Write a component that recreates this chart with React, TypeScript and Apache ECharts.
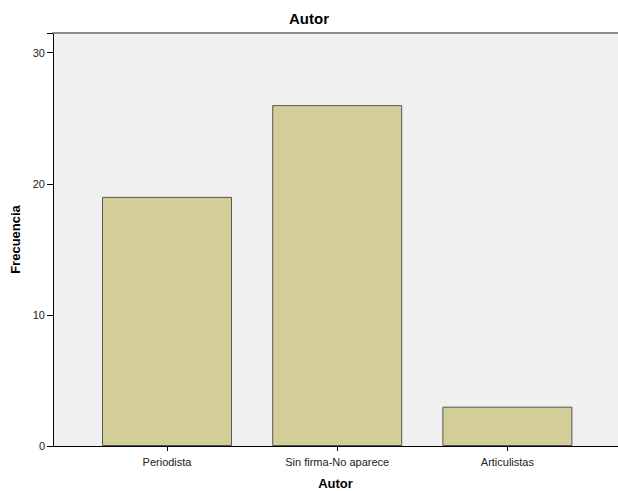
import React, { useEffect, useRef } from "react";
import * as echarts from "echarts";

const categories = ["Periodista", "Sin firma-No aparece", "Articulistas"];
const frequencies = [19, 26, 3];
const yTicks = [0, 10, 20, 30];

export default function App() {
  const ref = useRef<HTMLDivElement>(null);
  useEffect(() => {
    if (!ref.current) return;
    const chart = echarts.init(ref.current, null, { renderer: "svg" });
    const idx = categories.map((_, i) => i);
    const padL = 0.17;
    const padR = 0.15;
    const font = "Liberation Sans, Arial, sans-serif";
    chart.setOption({
      animation: false,
      title: {
        text: "Autor",
        left: "center",
        top: 6,
        textStyle: { fontFamily: font, fontSize: 15, fontWeight: "bold", color: "#000" },
      },
      grid: {
        left: 53,
        top: 33,
        right: 0,
        bottom: 45,
        outerBoundsMode: "none",
        containLabel: false,
        show: true,
        backgroundColor: "#F0F0F0",
        borderWidth: 0,
      },
      xAxis: [
        {
          type: "value",
          min: -0.5 - padL,
          max: categories.length - 0.5 + padR,
          name: "Autor",
          nameLocation: "middle",
          nameGap: 31,
          nameTextStyle: { fontFamily: font, fontSize: 13, fontWeight: "bold", color: "#000" },
          axisLine: { show: true, onZero: false, lineStyle: { color: "#000", width: 1 } },
          axisTick: { show: true, length: 5, customValues: idx, lineStyle: { color: "#000" } },
          axisLabel: {
            customValues: idx,
            formatter: (v: number) => categories[Math.round(v)] ?? "",
            fontFamily: font,
            fontSize: 11,
            color: "#222",
            margin: 10,
          },
          splitLine: { show: false },
        },
        {
          type: "value",
          position: "top",
          min: -0.5 - padL,
          max: categories.length - 0.5 + padR,
          axisLine: { show: true, onZero: false, lineStyle: { color: "#8c8c8c", width: 2 } },
          axisTick: { show: false },
          axisLabel: { show: false },
          splitLine: { show: false },
        },
      ],
      yAxis: {
        type: "value",
        position: "left",
        min: 0,
        max: 31.5,
        interval: 10,
        name: "Frecuencia",
        nameLocation: "middle",
        nameRotate: 90,
        nameGap: 28,
        nameTextStyle: { fontFamily: font, fontSize: 13, fontWeight: "bold", color: "#000" },
        axisLine: { show: true, onZero: false, lineStyle: { color: "#000", width: 1 } },
        axisTick: { show: true, length: 6, lineStyle: { color: "#000" } },
        axisLabel: {
          fontFamily: font,
          fontSize: 11,
          color: "#222",
          margin: 8,
          formatter: (v: number) => (yTicks.includes(v) ? String(v) : ""),
        },
        splitLine: { show: false },
      },
      series: [
        {
          type: "bar",
          data: frequencies.map((v, i) => [i, v]),
          barWidth: 130,
          itemStyle: { color: "#D3CE97", borderColor: "#555", borderWidth: 1 },
        },
      ],
    });
    return () => chart.dispose();
  }, []);
  return (
    <div
      ref={ref}
      style={{ position: "absolute", left: 0, top: 0, width: 618, height: 491, background: "#fff" }}
    />
  );
}
